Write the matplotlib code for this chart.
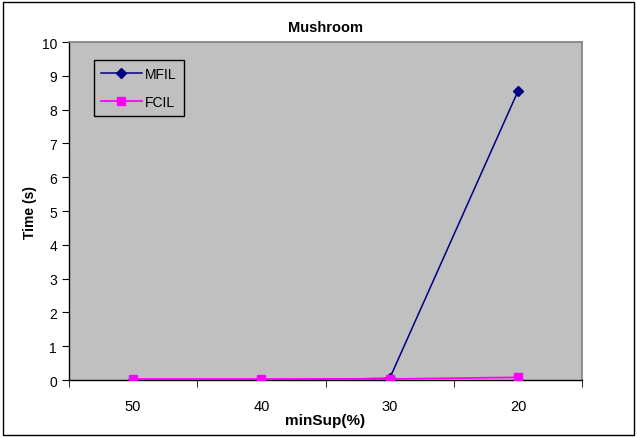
import matplotlib
matplotlib.use("Agg")
import matplotlib.pyplot as plt
from matplotlib.patches import Rectangle

categories = ["50", "40", "30", "20"]
mfil = [0.0, 0.0, 0.05, 8.55]
fcil = [0.03, 0.03, 0.03, 0.08]
yticks = list(range(0, 11))

plt.rcParams['font.family'] = ['Liberation Sans', 'DejaVu Sans']

fig = plt.figure(figsize=(6.37, 4.39), dpi=100)
fig.patches.append(Rectangle((0.005, 0.007), 0.99, 0.986, transform=fig.transFigure,
                             fill=False, edgecolor='black', linewidth=1.0))
ax = fig.add_axes([0.108, 0.132, 0.806, 0.770])
ax.set_facecolor('#C0C0C0')
x = list(range(len(categories)))
ax.plot(x, mfil, color='#000080', marker='D', markersize=5, linewidth=1.1, label='MFIL', zorder=3)
ax.plot(x, fcil, color='#FF00FF', marker='s', markersize=6, linewidth=1.3, label='FCIL', zorder=4)

ax.set_xlim(-0.5, len(categories) - 0.5)
ax.set_ylim(0, 10)
ax.set_yticks(yticks)
ax.set_xticks(x)
ax.set_xticklabels(categories)
ax.set_xticks([i - 0.5 for i in range(len(categories) + 1)], minor=True)
ax.tick_params(axis='x', which='major', length=0, labelsize=10.5, pad=14)
ax.tick_params(axis='x', which='minor', length=5, direction='out', color='black')
ax.tick_params(axis='y', length=5, direction='out', labelsize=10)
for s in ['top', 'right']:
    ax.spines[s].set_color('#808080')
    ax.spines[s].set_linewidth(1.2)
for s in ['left', 'bottom']:
    ax.spines[s].set_color('black')
    ax.spines[s].set_linewidth(1.0)

ax.set_title('Mushroom', fontsize=10.5, fontweight='bold', pad=8)
ax.set_xlabel('minSup(%)', fontsize=11, fontweight='bold', labelpad=0)
ax.set_ylabel('Time (s)', fontsize=10, fontweight='bold', labelpad=3)

leg = ax.legend(loc='upper left', bbox_to_anchor=(0.035, 0.968), fancybox=False,
                edgecolor='black', framealpha=1, facecolor='#C0C0C0', fontsize=10,
                handlelength=3, borderpad=0.5, labelspacing=1.0, handletextpad=0.2)
leg.get_frame().set_linewidth(1.0)

fig.savefig('out.png', dpi=100)
